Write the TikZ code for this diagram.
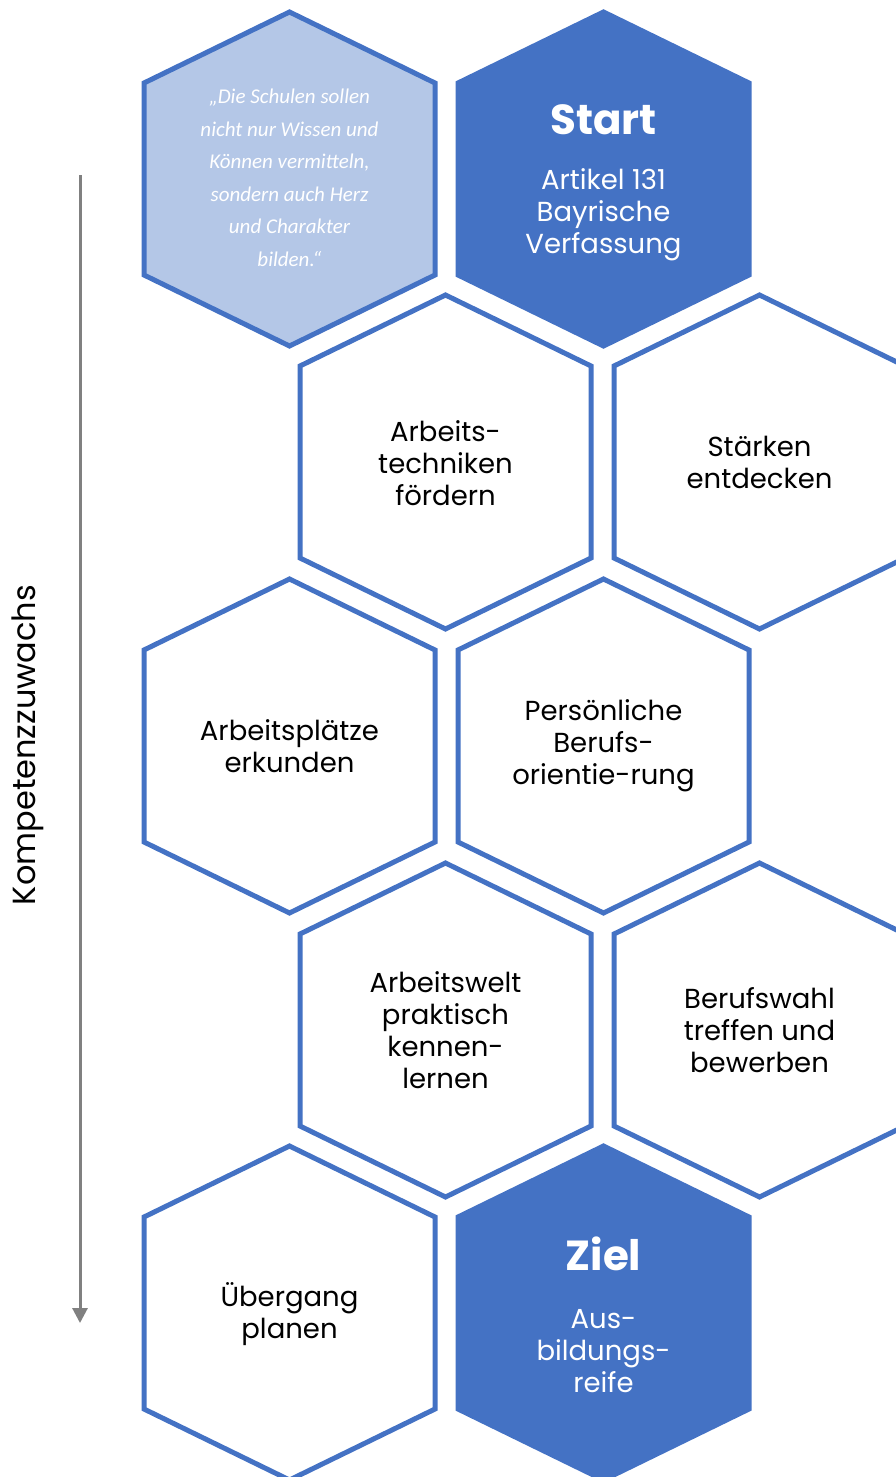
\documentclass[tikz,border=0pt]{standalone}
\usepackage{fontspec}
\setmainfont{Poppins}
\newfontfamily\quotefont{Carlito}
\usetikzlibrary{arrows.meta}
\definecolor{hexblue}{HTML}{4472C4}
\definecolor{hexlight}{HTML}{B4C7E7}
\definecolor{arrowgrey}{HTML}{808080}
\newcommand\hexshape[3]{%
  \draw[#3] ({#1},{#2-167}) -- ({#1+145.5},{#2-96}) -- ({#1+145.5},{#2+96})
    -- ({#1},{#2+167}) -- ({#1-145.5},{#2+96}) -- ({#1-145.5},{#2-96}) -- cycle;}
\begin{document}
\begin{tikzpicture}[x=1pt,y=-1pt,
  hexout/.style={draw=hexblue,line width=5pt,fill=white,line join=miter},
  hexquote/.style={draw=hexblue,line width=5pt,fill=hexlight,line join=miter},
  hexfull/.style={draw=hexblue,line width=5pt,fill=hexblue,line join=miter},
  hextext/.style={align=center,inner sep=0pt,font=\fontsize{27.5}{32}\selectfont,text=black},
  whitetext/.style={hextext,text=white},
  titletext/.style={align=center,inner sep=0pt,font=\fontsize{42}{50}\selectfont\bfseries,text=white},
  quotetext/.style={align=center,inner sep=0pt,font=\quotefont\itshape\fontsize{21}{32.5}\selectfont,text=white},
  sidetext/.style={inner sep=0pt,font=\fontsize{32}{36}\selectfont,text=black,rotate=90},
  growarrow/.style={draw=arrowgrey,line width=3pt,-{Triangle[width=15pt,length=15pt]}}]
\useasboundingbox (0,0) rectangle (896,1477);
\clip (0,0) rectangle (896,1477);
% hexagons
\hexshape{289.5}{179}{hexquote}
\hexshape{603.5}{179}{hexfull}
\hexshape{445.5}{462}{hexout}
\hexshape{759.5}{462}{hexout}
\hexshape{289.5}{746}{hexout}
\hexshape{603.5}{746}{hexout}
\hexshape{445.5}{1030}{hexout}
\hexshape{759.5}{1030}{hexout}
\hexshape{289.5}{1313}{hexout}
\hexshape{603.5}{1313}{hexfull}
% texts
\node[quotetext] (quote) at (289.5,178) {„Die Schulen sollen\\nicht nur Wissen und\\Können vermitteln,\\sondern auch Herz\\und Charakter\\bilden.“};
\node[titletext] (start) at (603.5,120) {Start};
\node[whitetext] (artikel) at (603.5,215) {Artikel 131\\Bayrische\\Verfassung};
\node[hextext] (techniken) at (445.5,463) {Arbeits-\\techniken\\fördern};
\node[hextext] (staerken) at (759.5,462) {Stärken\\entdecken};
\node[hextext] (plaetze) at (289.5,746) {Arbeitsplätze\\erkunden};
\node[hextext] (beruf) at (603.5,746) {Persönliche\\Berufs-\\orientie-rung};
\node[hextext] (welt) at (445.5,1030) {Arbeitswelt\\praktisch\\kennen-\\lernen};
\node[hextext] (wahl) at (759.5,1030) {Berufswahl\\treffen und\\bewerben};
\node[hextext] (uebergang) at (289.5,1314) {Übergang\\planen};
\node[titletext] (ziel) at (603.5,1254) {Ziel};
\node[whitetext] (reife) at (603.5,1351) {Aus-\\bildungs-\\reife};
% arrow
\coordinate (atop) at (80,175);
\coordinate (abot) at (80,1323);
\draw[growarrow] (atop) -- (abot);
\node[sidetext] (kompetenz) at (28,745) {Kompetenzzuwachs};
\end{tikzpicture}
\end{document}
